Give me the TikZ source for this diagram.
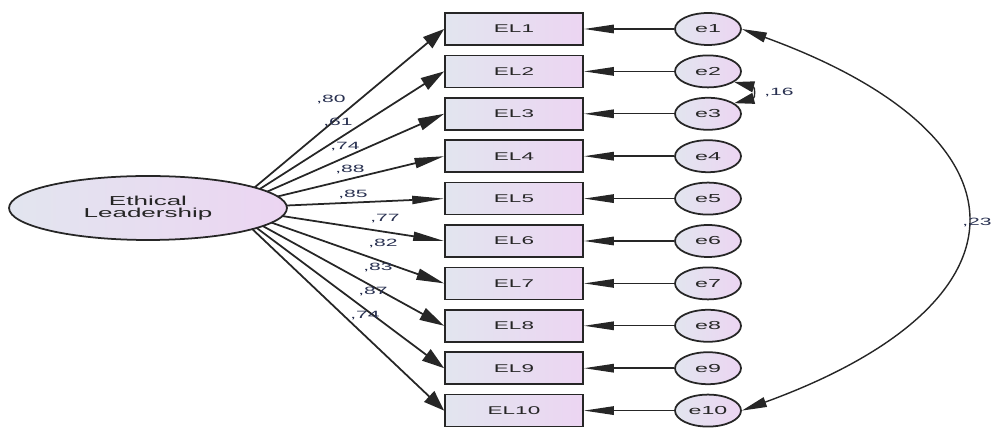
\documentclass[tikz,border=0pt]{standalone}
\usepackage{fontspec}
\setmainfont{Liberation Sans}
\newfontfamily\amosfont[FakeStretch=2.0]{Liberation Sans}
\usetikzlibrary{arrows.meta,shapes.geometric,backgrounds}

\definecolor{boxleft}{RGB}{226,229,239}
\definecolor{boxright}{RGB}{236,213,242}
\definecolor{labcol}{RGB}{40,48,80}

\tikzset{
  obsbox/.style={draw=black!85, line width=1pt, minimum width=2.76cm,
                 minimum height=0.64cm, inner sep=0,
                 font=\amosfont\fontsize{6.4}{7}\selectfont, text=black!85,
                 left color=boxleft, right color=boxright},
  errnode/.style={ellipse, draw=black!85, line width=1pt, minimum width=1.32cm,
                  minimum height=0.64cm, inner sep=0,
                  font=\amosfont\fontsize{6.6}{7}\selectfont, text=black!85,
                  left color=boxleft, right color=boxright},
  err arrow/.style={-{Triangle[length=6mm,width=1.7mm]}, black!85, line width=0.8pt},
  cov arrow/.style={{Triangle[length=5mm,width=2mm]}-{Triangle[length=5mm,width=2mm]},
                    black!85, line width=0.8pt},
  small cov/.style={{Triangle[length=4mm,width=2.2mm]}-{Triangle[length=4mm,width=2.2mm]},
                    black!85, line width=0.8pt},
  wlab/.style={font=\amosfont\fontsize{6}{7}\selectfont, text=labcol, inner sep=0},
}

\begin{document}
\begin{tikzpicture}[x=0.02cm, y=-0.02cm]
    \useasboundingbox (0,0) rectangle (994,428);

    % latent variable
    \node[ellipse, draw=black!85, line width=1pt, minimum width=5.56cm,
          minimum height=1.28cm, inner sep=0, align=center, text=black!85,
          left color=boxleft, right color=boxright,
          font=\amosfont\fontsize{7.4}{6.9}\selectfont]
      (lv) at (148,208) {Ethical\\Leadership};
    \coordinate (lvc) at (230,208);

    % indicators and their error terms
    \foreach \i in {1,...,10} {
      \pgfmathsetmacro{\ry}{29 + (\i-1)*42.4}
      \node[obsbox] (el\i) at (514,\ry) {EL\i};
      \node[errnode] (e\i) at (708,\ry) {e\i};
      \draw[err arrow] (e\i.west) -- (el\i.east);
      % tip size follows the slope of the loading
      \pgfmathsetmacro{\th}{atan(2*(\ry-208)/215)}
      \pgfmathsetmacro{\tl}{6.4*sqrt(cos(\th)^2+0.25*sin(\th)^2)}
      \pgfmathsetmacro{\tw}{3.2*sqrt(sin(\th)^2+0.25*cos(\th)^2)}
      \begin{scope}[on background layer]
        \draw[-{Triangle[length=\tl mm,width=\tw mm]}, black!85, line width=1pt]
          (lvc) -- (el\i.west);
      \end{scope}
    }

    % standardised loadings
    \foreach \n/\lx/\ly/\w in {l1/331/100/80, l2/338/122/61, l3/345/147/74,
                               l4/350/169/88, l5/353/194/85, l6/385/219/77,
                               l7/383/243/82, l8/378/267/83, l9/373/291/87,
                               l10/365/316/74} {
      \node[wlab] (\n) at (\lx,\ly) {,\w};
    }

    % error covariances
    \draw[small cov] (e2.-22) to[out=-14, in=14, looseness=2.6] (e3.22);
    \node[wlab, anchor=west] (c23) at (764,93) {,16};

    \draw[cov arrow] (e1.east) to[out=-20, in=20, looseness=2.12] (e10.east);
    \node[wlab, anchor=east] (c110) at (992,222) {,23};

\end{tikzpicture}
\end{document}
